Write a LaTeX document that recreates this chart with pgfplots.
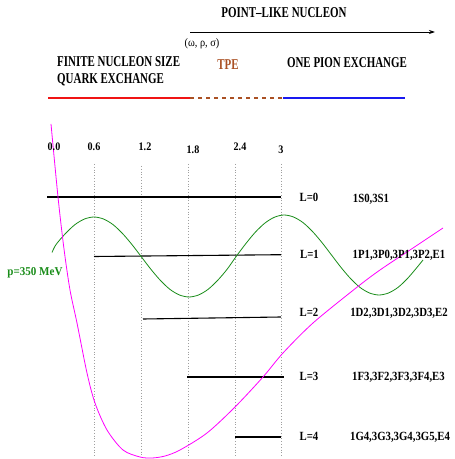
\documentclass[border=0pt]{standalone}
\usepackage{pgfplots}
\pgfplotsset{compat=1.18}
\usepackage{fontspec}
\setmainfont{Liberation Serif}
\usepackage{graphicx}
\usetikzlibrary{arrows.meta}
\definecolor{mygreen}{RGB}{25,140,25}
\definecolor{mybrown}{RGB}{170,80,35}
\definecolor{myred}{RGB}{240,20,20}
\definecolor{myblue}{RGB}{25,25,240}
\definecolor{mymag}{RGB}{255,0,255}
\newcommand{\hd}[1]{\scalebox{0.73}[1]{\fontsize{15}{17}\selectfont\bfseries #1}}
\newcommand{\lb}[1]{\scalebox{0.86}[1]{\fontsize{12.5}{14}\selectfont\bfseries #1}}
\newcommand{\tk}[1]{\scalebox{0.88}[1]{\fontsize{11.5}{13}\selectfont\bfseries #1}}
\begin{document}
\begin{tikzpicture}
\useasboundingbox (0,0) rectangle (455pt,459pt);
\begin{axis}[at={(0,0)},anchor=south west,scale only axis,width=455pt,height=459pt,
  xmin=0,xmax=455,ymin=0,ymax=459,hide axis,clip=false]
% dotted verticals
\addplot[color=gray!75,line width=0.8pt,dash pattern=on 0.8pt off 2pt] coordinates {(94,295) (94,2)};
\addplot[color=gray!75,line width=0.8pt,dash pattern=on 0.8pt off 2pt] coordinates {(141,293) (141,2)};
\addplot[color=gray!75,line width=0.8pt,dash pattern=on 0.8pt off 2pt] coordinates {(188,295) (188,2)};
\addplot[color=gray!75,line width=0.8pt,dash pattern=on 0.8pt off 2pt] coordinates {(235,295) (235,2)};
\addplot[color=gray!75,line width=0.8pt,dash pattern=on 0.8pt off 2pt] coordinates {(281,295) (281,2)};
% level lines
\addplot[color=black,line width=1.1pt] coordinates {(47,262) (281,262)};
\addplot[color=black,line width=1.1pt] coordinates {(94,202.5) (281,204.3)};
\addplot[color=black,line width=1.1pt] coordinates {(143,140) (281,142)};
\addplot[color=black,line width=1.1pt] coordinates {(187,82) (284,82)};
\addplot[color=black,line width=1.1pt] coordinates {(235,22) (281,22)};
% green wave p=350 MeV
\addplot[color=mygreen,line width=0.8pt,smooth] coordinates {
(52,206.5) (56,214.4) (65.5,225.5) (75,234.4) (84.5,240.0) (94,242) (103.5,240.0) (113,234.4) (122.5,225.5) (132,214.4)
(141.5,202) (151,189.6) (160.5,178.5) (170,169.6) (179.5,164.0) (189,162) (198.5,164.0) (208,169.6) (217.5,178.5) (227,189.6)
(236.5,203) (246,215.6) (255.5,227) (265,236) (274.5,241.8) (284,244) (293.5,242) (303,236.4) (312.5,227.5) (322,216.4)
(331.5,204) (341,191.6) (350.5,180.5) (360,171.6) (369.5,166) (379,164) (388.5,166) (398,171.6) (407.5,180.5) (417,191.6) (423,199)
};
% magenta potential
\addplot[color=mymag,line width=0.8pt,smooth] coordinates {
(51,335) (58,262) (64,210) (70,169) (77,136) (87,86) (95,56) (107,29) (123,9) (140,2) (152,1) (165,3) (180,9) (207,26)
(235,52) (263,82) (283,106) (313,136) (356,171) (380,189) (413,211) (443,231)
};
% header lines
\addplot[color=myred,line width=1.2pt] coordinates {(48,361) (190,361)};
\addplot[color=mybrown,line width=1.2pt,dash pattern=on 4pt off 4pt] coordinates {(190,361) (283,361)};
\addplot[color=myblue,line width=1.2pt] coordinates {(283,361) (405,361)};
\addplot[color=black,line width=0.8pt,-{Stealth[length=6pt,width=4pt]}] coordinates {(190,427) (435,427)};
% header text
\node[anchor=base,inner sep=0pt] at (axis cs:284,441) {\hd{POINT\textendash LIKE NUCLEON}};
\node[anchor=center,inner sep=0pt] at (axis cs:202,415) {\scalebox{0.9}[1]{\fontsize{11.5}{13}\selectfont (ω, ρ, σ)}};
\node[anchor=base west,inner sep=0pt] at (axis cs:57,392.3) {\hd{FINITE NUCLEON SIZE}};
\node[anchor=base west,inner sep=0pt] at (axis cs:57,375) {\hd{QUARK EXCHANGE}};
\node[anchor=base,inner sep=0pt,text=mybrown] at (axis cs:228,389) {\hd{TPE}};
\node[anchor=base,inner sep=0pt] at (axis cs:347,391) {\hd{ONE PION EXCHANGE}};
% tick labels
\node[anchor=base,inner sep=0pt] at (axis cs:54,308) {\tk{0.0}};
\node[anchor=base,inner sep=0pt] at (axis cs:94,308) {\tk{0.6}};
\node[anchor=base,inner sep=0pt] at (axis cs:145,308) {\tk{1.2}};
\node[anchor=base,inner sep=0pt] at (axis cs:193,305) {\tk{1.8}};
\node[anchor=base,inner sep=0pt] at (axis cs:240,308) {\tk{2.4}};
\node[anchor=base,inner sep=0pt] at (axis cs:281,305) {\tk{3}};
% L labels
\node[anchor=base,inner sep=0pt] at (axis cs:309,257) {\lb{L=0}};
\node[anchor=base,inner sep=0pt] at (axis cs:309.5,200) {\lb{L=1}};
\node[anchor=base,inner sep=0pt] at (axis cs:309,142) {\lb{L=2}};
\node[anchor=base,inner sep=0pt] at (axis cs:309,78) {\lb{L=3}};
\node[anchor=base,inner sep=0pt] at (axis cs:309,19) {\lb{L=4}};
\node[anchor=base,inner sep=0pt] at (axis cs:371,256) {\lb{1S0,3S1}};
\node[anchor=base,inner sep=0pt] at (axis cs:399,200) {\lb{1P1,3P0,3P1,3P2,E1}};
\node[anchor=base,inner sep=0pt] at (axis cs:399,142) {\lb{1D2,3D1,3D2,3D3,E2}};
\node[anchor=base,inner sep=0pt] at (axis cs:398.5,78) {\lb{1F3,3F2,3F3,3F4,E3}};
\node[anchor=base,inner sep=0pt] at (axis cs:400,19) {\lb{1G4,3G3,3G4,3G5,E4}};
\node[anchor=base,inner sep=0pt,text=mygreen] at (axis cs:35,183) {\scalebox{0.92}[1]{\fontsize{12}{14}\selectfont\bfseries p=350 MeV}};
\end{axis}
\end{tikzpicture}
\end{document}
